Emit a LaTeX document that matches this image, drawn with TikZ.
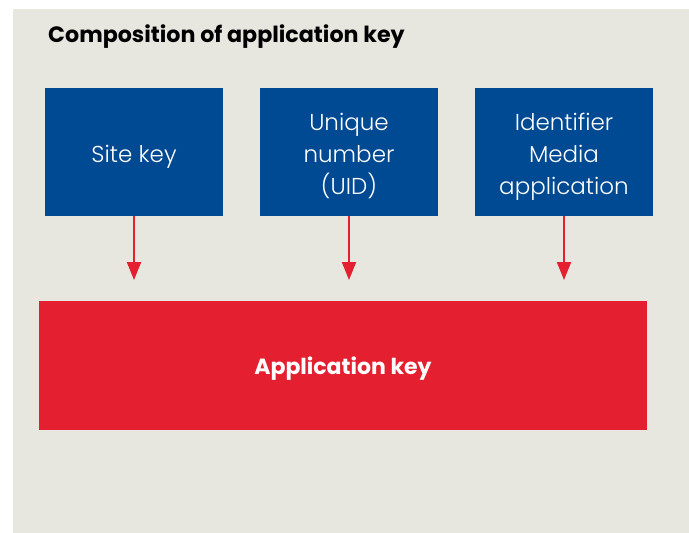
\documentclass[tikz,border=0pt]{standalone}
\usepackage{fontspec}
\setmainfont{Poppins}
\newfontfamily\lightfont{Poppins Light}
\usetikzlibrary{arrows.meta}
\definecolor{bggray}{RGB}{231,230,223}
\definecolor{boxblue}{RGB}{0,74,147}
\definecolor{keyred}{RGB}{228,32,48}
% text whose first baseline lies #1 below the node centre
\newcommand{\firstline}[2]{\raisebox{#1}[0pt][0pt]{\begin{tabular}[t]{@{}c@{}}#2\end{tabular}}}
\tikzset{
  x=1pt,y=-1pt,
  bluebox/.style={fill=boxblue,draw=none,minimum width=178pt,minimum height=128pt,
    inner sep=0pt,text=white,font=\lightfont\fontsize{23}{32}\selectfont},
  redbox/.style={fill=keyred,draw=none,minimum width=608pt,minimum height=129pt,
    inner sep=0pt,text=white,font=\bfseries\fontsize{22}{26}\selectfont},
  arr/.style={draw=keyred,line width=2pt,-{Triangle[length=18pt,width=14pt]}}
}
\begin{document}
\begin{tikzpicture}
\useasboundingbox (0,0) rectangle (689,533);
\fill[white] (0,0) rectangle (689,533);
\fill[bggray] (13,9) rectangle (689,533);
\node[anchor=base west,font=\bfseries\fontsize{22.2}{26}\selectfont,inner sep=0pt] (title) at (48,42) {Composition of application key};
\node[bluebox] (b1) at (134,152) {\firstline{-10pt}{Site key}};
\node[bluebox] (b2) at (349,152) {\firstline{22pt}{Unique\\number\\(UID)}};
\node[bluebox] (b3) at (564,152) {\firstline{22pt}{Identifier\\Media\\application}};
\node[redbox] (ak) at (343,365.5) {\raisebox{-9pt}[0pt][0pt]{Application key}};
\coordinate (t1) at (134,280);
\coordinate (t2) at (349,280);
\coordinate (t3) at (564,280);
\draw[arr] (b1.south) -- (t1);
\draw[arr] (b2.south) -- (t2);
\draw[arr] (b3.south) -- (t3);
\end{tikzpicture}
\end{document}
